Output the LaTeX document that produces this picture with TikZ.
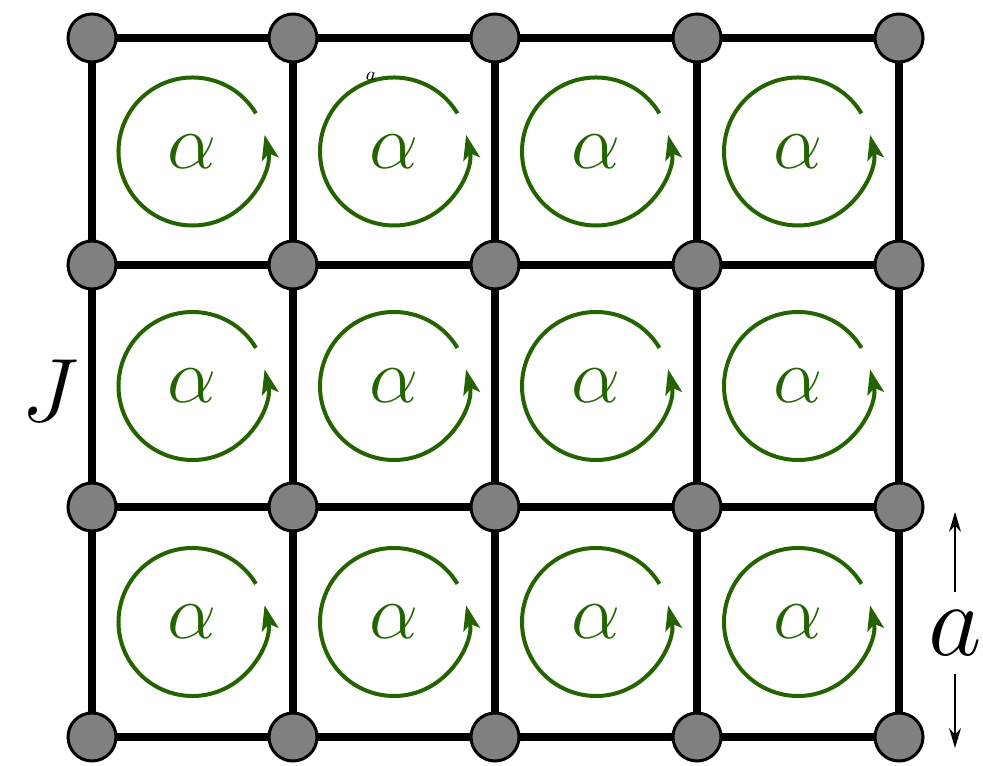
\documentclass[tikz,border=0pt]{standalone}
\usepackage{fix-cm}
\usepackage{amsmath}
\usetikzlibrary{arrows.meta, positioning, calc, backgrounds}
\definecolor{loopgreen}{RGB}{36,100,0}
\definecolor{sitegray}{RGB}{128,128,128}
\tikzset{
  site/.style={circle, draw=black, fill=sitegray, line width=1.5pt, minimum size=24pt, inner sep=0pt},
  bond/.style={line width=4pt},
  flux/.style={loopgreen, line width=2pt, -{Stealth[length=12.5pt,width=8.5pt,inset=3pt]}},
  marker/.style={line width=0.75pt, -{Stealth[length=10pt,width=6pt]}}
}

\begin{document}
\begin{tikzpicture}[x=0.5pt, y=0.5pt]
  \useasboundingbox (0,0) rectangle (983,765);
  % lattice sites
  \foreach \cx [count=\i] in {92,293,495,697,899}
    \foreach \cy [count=\j] in {727,500,258,28}
      \node[site] (n\i\j) at (\cx,\cy) {};
  % bonds
  \begin{scope}[on background layer]
    \foreach \i/\k in {1/2,2/3,3/4,4/5}
      \foreach \j in {1,...,4}
        \draw[bond] (n\i\j.center) -- (n\k\j.center);
    \foreach \j/\l in {1/2,2/3,3/4}
      \foreach \i in {1,...,5}
        \draw[bond] (n\i\j.center) -- (n\i\l.center);
  \end{scope}
  % plaquettes
  \foreach \i/\k in {1/2,2/3,3/4,4/5}
    \foreach \j/\l in {1/2,2/3,3/4} {
      \coordinate (p\i\j) at ($(n\i\j)!0.5!(n\k\l)$);
      \draw[flux] ($(p\i\j)+(31:37pt)$) arc[start angle=31, end angle=373, radius=37pt];
      \node[loopgreen, font=\fontsize{39}{41}\selectfont] (alpha\i\j) at (p\i\j) {$\alpha$};
    }
  \node[font=\fontsize{9.5}{10}\selectfont, inner sep=0pt] (tinya) at (371,689) {$a$};
  \node[font=\fontsize{45}{48}\selectfont] (coupling) at (50,374) {$J$};
  \node[font=\fontsize{52}{56}\selectfont, inner sep=9pt] (spacing) at (955,132) {$a$};
  \coordinate (atop) at (955,253);
  \coordinate (abot) at (955,17);
  \draw[marker] (spacing) -- (atop);
  \draw[marker] (spacing) -- (abot);
\end{tikzpicture}
\end{document}
